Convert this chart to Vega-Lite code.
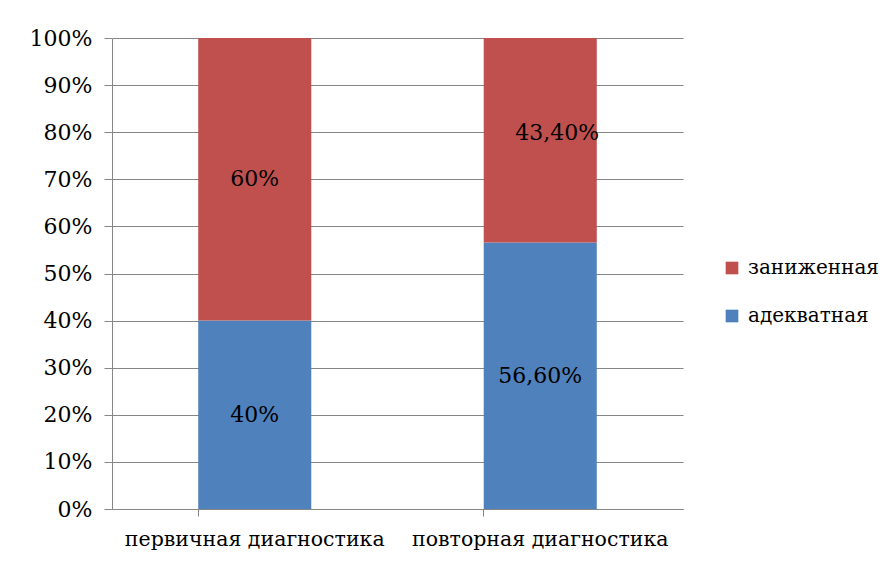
{
  "$schema": "https://vega.github.io/schema/vega-lite/v6.json",
  "autosize": {"type": "none"},
  "padding": {"left": 112, "top": 38, "right": 209, "bottom": 57},
  "width": 571,
  "height": 471,
  "background": "white",
  "config": {
    "view": {"stroke": null},
    "font": "DejaVu Serif"
  },
  "data": {
    "values": [
      {"stage": "первичная диагностика", "level": "адекватная", "value": 0.40, "ord": 1, "label": "40%"},
      {"stage": "первичная диагностика", "level": "заниженная", "value": 0.60, "ord": 2, "label": "60%"},
      {"stage": "повторная диагностика", "level": "адекватная", "value": 0.566, "ord": 1, "label": "56,60%"},
      {"stage": "повторная диагностика", "level": "заниженная", "value": 0.434, "ord": 2, "label": "43,40%"}
    ]
  },
  "encoding": {
    "x": {
      "field": "stage", "type": "nominal", "sort": null,
      "scale": {"paddingInner": 0.604, "paddingOuter": 0.302},
      "axis": {
        "title": null, "labelAngle": 0, "labelFontSize": 20.5, "labelColor": "black", "labelLimit": 0,
        "labelFont": "DejaVu Serif", "domainColor": "#868686", "tickColor": "#868686",
        "tickSize": 7, "bandPosition": 0, "labelPadding": 13, "grid": false
      }
    }
  },
  "layer": [
    {
      "mark": {"type": "bar"},
      "encoding": {
        "y": {
          "field": "value", "type": "quantitative", "stack": "zero",
          "scale": {"domain": [0, 1]},
          "axis": {
            "title": null, "format": ".0%", "values": [0,0.1,0.2,0.3,0.4,0.5,0.6,0.7,0.8,0.9,1],
            "labelFontSize": 22, "labelColor": "black", "labelFont": "DejaVu Serif",
            "gridColor": "#868686", "domainColor": "#868686", "tickColor": "#868686",
            "tickSize": 8, "labelPadding": 12
          }
        },
        "color": {
          "field": "level", "type": "nominal",
          "scale": {"domain": ["заниженная", "адекватная"], "range": ["#C0504D", "#4F81BD"]},
          "legend": {
            "title": null, "orient": "none", "legendX": 610, "legendY": 220,
            "symbolType": "square", "symbolSize": 160, "symbolStrokeWidth": 0,
            "labelFontSize": 20, "labelFont": "DejaVu Serif", "labelColor": "black", "labelLimit": 0,
            "rowPadding": 28, "labelOffset": 6
          }
        },
        "order": {"field": "ord", "type": "quantitative"}
      }
    },
    {
      "transform": [
        {"stack": "value", "groupby": ["stage"], "sort": [{"field": "ord"}], "as": ["v0", "v1"]},
        {"calculate": "(datum.v0 + datum.v1) / 2", "as": "mid"},
        {"filter": "datum.label != '43,40%'"}
      ],
      "mark": {"type": "text", "fontSize": 22, "font": "DejaVu Serif", "color": "black"},
      "encoding": {
        "y": {"field": "mid", "type": "quantitative"},
        "text": {"field": "label"}
      }
    },
    {
      "transform": [
        {"stack": "value", "groupby": ["stage"], "sort": [{"field": "ord"}], "as": ["v0", "v1"]},
        {"calculate": "(datum.v0 + datum.v1) / 2", "as": "mid"},
        {"filter": "datum.label == '43,40%'"}
      ],
      "mark": {"type": "text", "fontSize": 22, "font": "DejaVu Serif", "color": "black", "dx": 17, "dy": -7},
      "encoding": {
        "y": {"field": "mid", "type": "quantitative"},
        "text": {"field": "label"}
      }
    }
  ]
}
